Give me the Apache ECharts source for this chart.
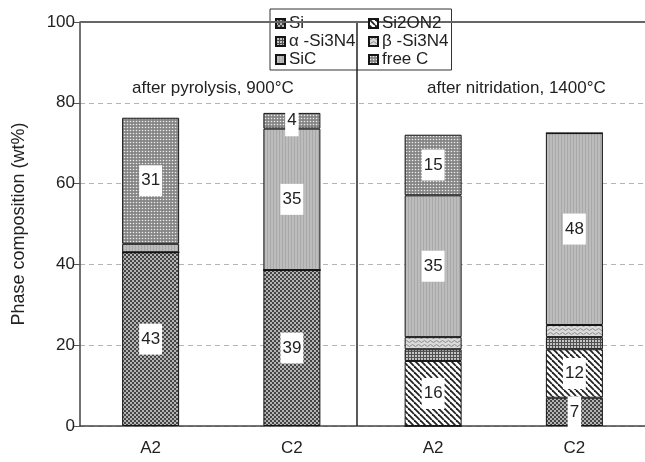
<!DOCTYPE html>
<html>
<head>
<meta charset="utf-8">
<script src="https://cdn.jsdelivr.net/npm/echarts@6/dist/echarts.min.js"></script>
<style>
html, body { margin: 0; padding: 0; background: #fff; }
#main { width: 645px; height: 462px; }
</style>
</head>
<body>
<div id="main"></div>
<script>
// samples: pyrolysis A2, C2 | nitridation A2, C2
var categories = ['A2', 'C2', 'A2', 'C2'];
var si = [43, 38.6, 0, 7];
var si2on2 = [0, 0, 16.1, 12];
var alphaSi3n4 = [0, 0, 2.9, 3];
var betaSi3n4 = [0, 0, 3, 3];
var sic = [2.1, 35, 35.1, 47.5];
var freeC = [31.2, 3.9, 15, 0];
var panelTitles = ['after pyrolysis, 900°C', 'after nitridation, 1400°C'];
var dividerAt = 1.46;

var font = 'Liberation Sans, Arial, sans-serif';

function pattern(w, h, draw) {
    var c = document.createElement('canvas');
    c.width = w;
    c.height = h;
    draw(c.getContext('2d'), w, h);
    return { image: c, repeat: 'repeat' };
}

function dot(ctx, x, y, r) {
    ctx.beginPath();
    ctx.arc(x, y, r, 0, Math.PI * 2);
    ctx.fill();
}

var fills = {
    si: pattern(4, 4, function (ctx) {
        ctx.fillStyle = '#444';
        ctx.fillRect(0, 0, 4, 4);
        ctx.fillStyle = '#dadada';
        dot(ctx, 1, 1, 1);
        dot(ctx, 3, 3, 1);
    }),
    si2on2: pattern(6, 6, function (ctx) {
        ctx.fillStyle = '#fff';
        ctx.fillRect(0, 0, 6, 6);
        ctx.strokeStyle = '#222';
        ctx.lineWidth = 1.8;
        [-6, 0, 6].forEach(function (k) {
            ctx.beginPath();
            ctx.moveTo(k, 0);
            ctx.lineTo(k + 6, 6);
            ctx.stroke();
        });
    }),
    alpha: pattern(3, 3, function (ctx) {
        ctx.fillStyle = '#c4c4c4';
        ctx.fillRect(0, 0, 3, 3);
        ctx.fillStyle = '#505050';
        ctx.fillRect(0, 0, 3, 1);
        ctx.fillRect(0, 0, 1, 3);
    }),
    beta: pattern(6, 4, function (ctx) {
        ctx.fillStyle = '#dadada';
        ctx.fillRect(0, 0, 6, 4);
        ctx.strokeStyle = '#8a8a8a';
        ctx.lineWidth = 1;
        ctx.beginPath();
        ctx.moveTo(0, 1.5);
        ctx.quadraticCurveTo(1.5, 3.5, 3, 1.5);
        ctx.quadraticCurveTo(4.5, -0.5, 6, 1.5);
        ctx.stroke();
    }),
    sic: pattern(3, 1, function (ctx) {
        ctx.fillStyle = '#bcbcbc';
        ctx.fillRect(0, 0, 3, 1);
        ctx.fillStyle = '#a9a9a9';
        ctx.fillRect(0, 0, 1, 1);
    }),
    freeC: pattern(3, 3, function (ctx) {
        ctx.fillStyle = '#858585';
        ctx.fillRect(0, 0, 3, 3);
        ctx.fillStyle = '#ebebeb';
        dot(ctx, 1.5, 1.5, 0.8);
    })
};

function phase(name, values, fill) {
    return {
        name: name,
        type: 'bar',
        stack: 'total',
        barWidth: 57,
        itemStyle: { color: fill, borderColor: '#151515', borderWidth: 1 },
        label: {
            position: 'inside',
            fontFamily: font,
            fontSize: 17,
            color: '#222',
            backgroundColor: '#fff',
            padding: [7, 2],
            formatter: function (p) { return Math.round(p.value); }
        },
        data: values.map(function (v) {
            return { value: v, label: { show: v >= 3.5 } };
        })
    };
}

var chart = echarts.init(document.getElementById('main'));

var option = {
    animation: false,
    textStyle: { fontFamily: font },
    title: [
        { text: panelTitles[0], left: 132, top: 80, padding: 0,
          textStyle: { fontSize: 17, fontWeight: 'normal', color: '#222', fontFamily: font } },
        { text: panelTitles[1], left: 427, top: 80, padding: 0,
          textStyle: { fontSize: 17, fontWeight: 'normal', color: '#222', fontFamily: font } }
    ],
    legend: [
        {
            orient: 'vertical', left: 270, top: 9,
            padding: [6, 96, 2, 5], itemGap: 1, itemWidth: 9, itemHeight: 9, icon: 'rect',
            backgroundColor: '#fff', borderColor: '#333', borderWidth: 1,
            textStyle: { fontSize: 17, color: '#222', fontFamily: font, padding: [0, 0, 0, -1] },
            data: ['Si', 'α -Si3N4', 'SiC'], z: 5
        },
        {
            orient: 'vertical', left: 363, top: 9,
            padding: [6, 5, 2, 5], itemGap: 1, itemWidth: 9, itemHeight: 9, icon: 'rect',
            textStyle: { fontSize: 17, color: '#222', fontFamily: font, padding: [0, 0, 0, -1] },
            data: ['Si2ON2', 'β -Si3N4', 'free C'], z: 6
        }
    ],
    grid: { left: 80, right: -4, top: 22, bottom: 36, containLabel: false },
    xAxis: [
        {
            type: 'category',
            data: categories,
            axisLine: { lineStyle: { color: '#444', width: 1.5 } },
            axisTick: { length: 5, lineStyle: { color: '#999' } },
            axisLabel: { fontSize: 17, color: '#222', margin: 14, fontFamily: font },
            splitLine: { show: false }
        },
        { type: 'value', min: -0.5, max: 3.5, show: false }
    ],
    yAxis: {
        type: 'value',
        min: 0,
        max: 100,
        interval: 20,
        name: 'Phase composition (wt%)',
        nameLocation: 'middle',
        nameGap: 52,
        nameTextStyle: { fontSize: 18, color: '#222', fontFamily: font },
        axisLine: { show: true, onZero: false, lineStyle: { color: '#444', width: 1.5 } },
        axisTick: { show: true, length: 6, lineStyle: { color: '#555' } },
        axisLabel: { fontSize: 17, color: '#222', margin: 5, fontFamily: font },
        splitLine: { show: true, showMaxLine: false, lineStyle: { color: '#b5b5b5', type: [5, 4] } }
    },
    series: [
        phase('Si', si, fills.si),
        phase('Si2ON2', si2on2, fills.si2on2),
        phase('α -Si3N4', alphaSi3n4, fills.alpha),
        phase('β -Si3N4', betaSi3n4, fills.beta),
        phase('SiC', sic, fills.sic),
        phase('free C', freeC, fills.freeC),
        {
            name: 'frame',
            type: 'line',
            xAxisIndex: 1,
            data: [],
            silent: true,
            markLine: {
                silent: true,
                symbol: 'none',
                label: { show: false },
                data: [
                    { xAxis: dividerAt, lineStyle: { color: '#222', width: 1.5, type: 'solid' } },
                    { yAxis: 100, lineStyle: { color: '#666', width: 2, type: 'solid' } }
                ]
            }
        }
    ]
};
chart.setOption(option);
</script>
</body>
</html>
